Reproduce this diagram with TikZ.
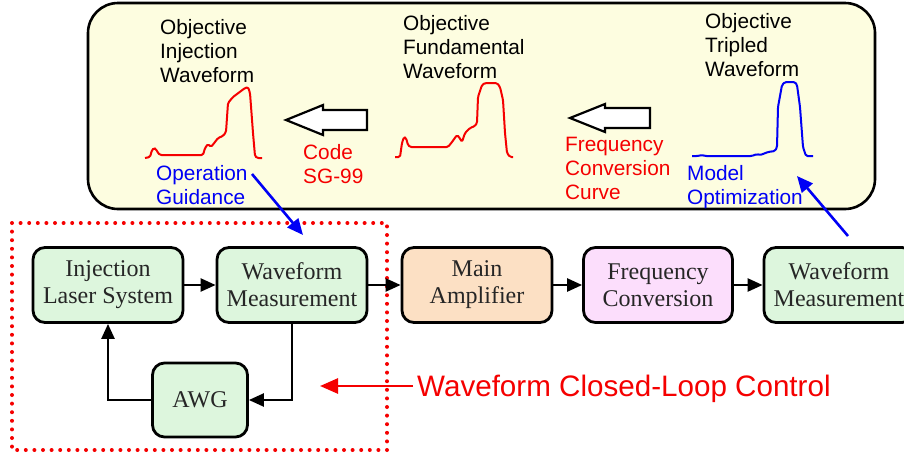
\documentclass[tikz,border=0pt]{standalone}
\usepackage{fontspec}
\setmainfont{Liberation Serif}
\setsansfont{Liberation Sans}
\usetikzlibrary{arrows.meta}
\definecolor{topfill}{RGB}{253,253,224}
\definecolor{boxgreen}{RGB}{221,246,221}
\definecolor{boxorange}{RGB}{252,224,196}
\definecolor{boxpink}{RGB}{252,222,252}
\definecolor{ared}{RGB}{245,0,0}
\definecolor{ablue}{RGB}{0,0,245}
\begin{document}
\begin{tikzpicture}[x=1pt,y=-1pt,
  blk/.style={draw=black, line width=2.8pt, rounded corners=12pt, minimum width=150pt, minimum height=75pt, align=center, inner sep=0pt, font=\fontsize{24}{27}\selectfont, text=black!85},
  lbl/.style={font=\sffamily\fontsize{20.8}{24}\selectfont, align=left, inner sep=0pt, anchor=north west},
  conn/.style={line width=2.4pt, -{Triangle[length=15pt,width=13pt]}},
  bluearrow/.style={ablue, line width=2.6pt, -{Triangle[length=16pt,width=14pt]}},
  wave/.style={line width=2pt, line join=round, rounded corners=1.5pt},
  hollow/.style={draw=black, fill=white, line width=2.2pt, line join=miter}
]
\useasboundingbox (0,0) rectangle (904,453);
\fill[white] (0,0) rectangle (904,453);

% top panel
\draw[fill=topfill, line width=2.6pt, rounded corners=30pt] (88,3) rectangle (875,209);

\node[lbl] (objinj) at (160,19) {Objective\\Injection\\Waveform};
\node[lbl] (objfund) at (403,15) {Objective\\Fundamental\\Waveform};
\node[lbl] (objtrip) at (705,13) {Objective\\Tripled\\Waveform};
\node[lbl, text=ablue] (opguide) at (156,165) {Operation\\Guidance};
\node[lbl, text=ared] (code) at (303,144) {Code\\SG-99};
\node[lbl, text=ared] (fcc) at (565,137) {Frequency\\Conversion\\Curve};
\node[lbl, text=ablue] (modopt) at (687,165) {Model\\Optimization};

% waveforms
\draw[wave, ared] (145,158) -- (150,157) -- (152,150) -- (154,148) -- (156,149) -- (158,153) -- (160,155) -- (203,155) -- (205,148) -- (208,144) -- (211,147) -- (215,142) -- (218,138) -- (223,136) -- (226,132) -- (228,103) -- (233,97) -- (245,88) -- (248,87) -- (250,93) -- (253,133) -- (255,156) -- (257,158) -- (262,158);
\draw[wave, ared] (395,157) -- (400,157) -- (402,143) -- (404,137) -- (406,138) -- (408,145) -- (410,147) -- (448,147) -- (452,142) -- (457,135) -- (459,137) -- (462,142) -- (465,133) -- (470,128) -- (475,126) -- (477,123) -- (478,97) -- (482,85) -- (485,83) -- (497,83) -- (500,87) -- (503,100) -- (505,133) -- (507,153) -- (510,157) -- (513,157);
\draw[wave, ablue] (692,156) -- (698,156) -- (702,155) -- (705,156) -- (752,156) -- (757,154) -- (760,155) -- (763,154) -- (768,152) -- (775,151) -- (777,147) -- (778,107) -- (782,85) -- (785,82) -- (795,82) -- (797,85) -- (800,107) -- (803,147) -- (806,156) -- (813,156);

% hollow arrows
\draw[hollow] (286,120) -- (323,105) -- (323,110) -- (367,110) -- (367,130) -- (323,130) -- (323,135) -- cycle;
\draw[hollow] (570,118) -- (605,104) -- (605,108) -- (650,108) -- (650,128) -- (605,128) -- (605,132) -- cycle;

% dotted loop frame
\draw[ared, line width=4pt, dash pattern=on 0pt off 8.6pt, line cap=round] (12,223) rectangle (387,450);

% blocks
\node[blk, fill=boxgreen] (inj) at (108,285) {Injection\\Laser System};
\node[blk, fill=boxgreen] (wm1) at (292,285) {Waveform\\Measurement};
\node[blk, fill=boxgreen, minimum width=95pt, minimum height=74pt] (awg) at (200,400) {AWG};
\node[blk, fill=boxorange] (amp) at (477,285) {Main\\Amplifier};
\node[blk, fill=boxpink, minimum width=149pt] (fc) at (658,285) {Frequency\\Conversion};
\node[blk, fill=boxgreen] (wm2) at (839,285) {Waveform\\Measurement};

\draw[conn] (inj) -- (wm1);
\draw[conn] (wm1) -- (amp);
\draw[conn] (amp) -- (fc);
\draw[conn] (fc) -- (wm2);
\draw[conn] (wm1.south) -- (wm1.south |- awg.east) -- (awg.east);
\draw[conn] (awg.west) -- (inj.south |- awg.west) -- (inj.south);

% blue arrows
\coordinate (opstart) at (252,174);
\coordinate (optip) at (303,235);
\draw[bluearrow] (opstart) -- (optip);
\coordinate (mostart) at (848,236);
\coordinate (motip) at (797,176);
\draw[bluearrow] (mostart) -- (motip);

% closed loop label
\node[font=\sffamily\fontsize{29.6}{34}\selectfont, text=ared, anchor=base west, inner sep=0pt] (wclc) at (417,396) {Waveform Closed-Loop Control};
\coordinate (wtip) at (320,386);
\draw[ared, line width=2.6pt, -{Triangle[length=18pt,width=15pt]}] (413,386) -- (wtip);
\end{tikzpicture}
\end{document}
